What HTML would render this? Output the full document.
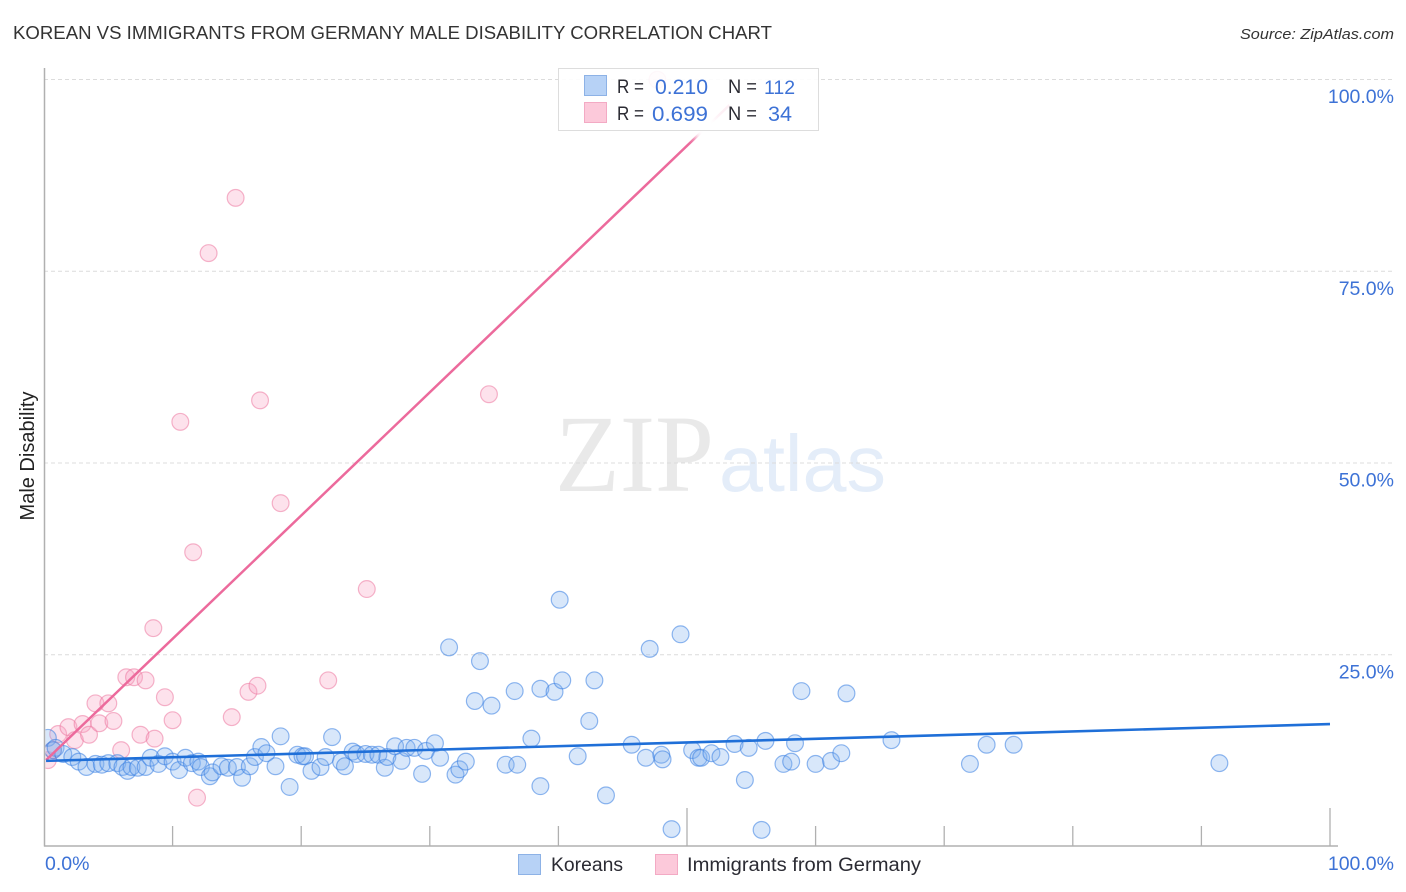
<!DOCTYPE html>
<html lang="en">
<head>
<meta charset="utf-8">
<title>Korean vs Immigrants from Germany Male Disability Correlation Chart</title>
<style>
html,body{margin:0;padding:0;background:#fff;width:1406px;height:892px;overflow:hidden}
svg{display:block}
text{font-family:"Liberation Sans",sans-serif}
.tick-label{fill:#3d72d6;font-size:19.5px}
.leg-text{fill:#2b2b33;font-size:19px}
.leg-val{fill:#3d72d6;font-size:21px}
</style>
</head>
<body>
<svg id="chart" xmlns="http://www.w3.org/2000/svg" width="1406" height="892" viewBox="0 0 1406 892">
  <defs>
    <clipPath id="plot-clip"><rect x="45.5" y="60" width="1300" height="785"></rect></clipPath>
    <filter id="soft" x="-50%" y="-50%" width="200%" height="200%"><feGaussianBlur stdDeviation="4"></feGaussianBlur></filter>
  </defs>

  <text x="13" y="39" font-size="18.5" fill="#333" textLength="759" lengthAdjust="spacingAndGlyphs">KOREAN VS IMMIGRANTS FROM GERMANY MALE DISABILITY CORRELATION CHART</text>
  <text x="1394" y="39" font-size="15" font-style="italic" fill="#333" text-anchor="end" textLength="154" lengthAdjust="spacingAndGlyphs">Source: ZipAtlas.com</text>

  <g>
    <text x="555" y="491" font-size="110" fill="#e9e9e9" textLength="159" lengthAdjust="spacingAndGlyphs" style="font-family:'Liberation Serif',serif">ZIP</text>
    <text x="719" y="491" font-size="80" fill="#e4edf9" textLength="167" lengthAdjust="spacingAndGlyphs">atlas</text>
  </g>

  <g id="grid"></g>
  <g id="axes"></g>
  <g id="y-labels"></g>
  <g id="x-labels"></g>

  <text transform="translate(34,456) rotate(-90)" font-size="20" fill="#222" text-anchor="middle">Male Disability</text>

  <g clip-path="url(#plot-clip)">
    <g id="pink-points"></g>
    <g id="blue-points"></g>
    <g id="trends"></g>
  </g>

  <ellipse cx="705" cy="128" rx="14" ry="15" fill="#fff" filter="url(#soft)"></ellipse>

  <g>
    <rect x="558.5" y="68.5" width="260" height="62" fill="#fff" fill-opacity="0.9" stroke="#ddd" stroke-width="1"></rect>
    <rect x="584.5" y="75.5" width="22" height="20" fill="#b7d2f6" stroke="#8db2e6"></rect>
    <rect x="584.5" y="102.5" width="22" height="20" fill="#fcc9da" stroke="#f3aac4"></rect>
    <text class="leg-text" x="617" y="93" textLength="27" lengthAdjust="spacingAndGlyphs">R =</text>
    <text class="leg-val" x="655" y="94" textLength="53" lengthAdjust="spacingAndGlyphs">0.210</text>
    <text class="leg-text" x="728" y="93" textLength="29" lengthAdjust="spacingAndGlyphs">N =</text>
    <text class="leg-val" x="764" y="94" font-size="20" style="font-size:19.5px">112</text>
    <text class="leg-text" x="617" y="120" textLength="27" lengthAdjust="spacingAndGlyphs">R =</text>
    <text class="leg-val" x="652" y="121" textLength="56" lengthAdjust="spacingAndGlyphs">0.699</text>
    <text class="leg-text" x="728" y="120" textLength="29" lengthAdjust="spacingAndGlyphs">N =</text>
    <text class="leg-val" x="768" y="121" textLength="24" lengthAdjust="spacingAndGlyphs">34</text>
  </g>

  <g>
    <rect x="518.5" y="854.5" width="22" height="20" fill="#b7d2f6" stroke="#8db2e6"></rect>
    <text class="leg-text" x="551" y="871" textLength="72" lengthAdjust="spacingAndGlyphs">Koreans</text>
    <rect x="655.5" y="854.5" width="22" height="20" fill="#fcc9da" stroke="#f3aac4"></rect>
    <text class="leg-text" x="687" y="871" textLength="234" lengthAdjust="spacingAndGlyphs">Immigrants from Germany</text>
  </g>
</svg>

<script>
const koreanX = [0.3,0.7,0.9,1.5,2.2,2.7,3.3,4.0,4.5,5.0,5.7,6.1,6.5,6.8,7.3,7.9,8.3,8.9,9.4,10.0,10.5,11.0,11.5,12.0,12.2,12.9,13.1,13.8,14.3,15.0,15.4,16.0,16.4,16.9,17.3,18.0,18.4,19.1,19.7,20.1,20.3,20.8,21.5,21.9,22.4,23.1,23.4,24.0,24.3,25.0,25.5,26.0,26.5,26.7,27.3,27.8,28.2,28.8,29.4,29.7,30.4,30.8,31.5,32.0,32.3,32.8,33.5,33.9,34.8,35.9,36.6,36.8,37.9,38.6,38.6,39.7,40.1,40.3,41.5,42.4,42.8,43.7,45.7,46.8,47.1,48.0,48.1,48.8,49.5,50.4,50.9,51.1,51.9,52.6,53.7,54.5,54.8,55.8,56.1,57.5,58.1,58.4,58.9,60.0,61.2,62.0,62.4,65.9,72.0,73.3,75.4,91.4];
const koreanY = [14.1,12.5,12.8,12.0,11.6,11.0,10.3,10.7,10.6,10.8,10.8,10.3,9.8,10.3,10.2,10.3,11.5,10.7,11.7,11.0,9.9,11.5,10.8,11.0,10.3,9.1,9.6,10.4,10.2,10.3,8.9,10.4,11.6,12.9,12.1,10.4,14.3,7.7,11.9,11.7,11.7,9.8,10.3,11.6,14.2,11.0,10.4,12.3,12.0,12.0,11.9,11.9,10.2,11.6,13.0,11.1,12.8,12.8,9.4,12.4,13.4,11.5,25.9,9.3,10.0,11.0,18.9,24.1,18.3,10.6,20.2,10.6,14.0,20.5,7.8,20.1,32.1,21.6,11.7,16.3,21.6,6.6,13.2,11.5,25.7,11.9,11.3,2.2,27.6,12.5,11.5,11.5,12.1,11.6,13.3,8.6,12.8,2.1,13.7,10.7,11.0,13.4,20.2,10.7,11.1,12.1,19.9,13.8,10.7,13.2,13.2,10.8];
const germanyX = [0.3,0.7,1.1,1.9,2.4,3.0,3.5,4.3,4.0,5.0,5.4,6.0,6.4,7.0,7.9,7.5,8.6,8.5,9.4,10.0,10.6,11.6,11.9,12.8,14.6,14.9,15.9,16.6,16.8,18.4,22.1,25.1,34.6,47.7];
const germanyY = [11.2,12.5,14.6,15.5,13.8,15.9,14.5,16.0,18.6,18.6,16.3,12.5,22.0,22.0,21.6,14.5,14.0,28.4,19.4,16.4,55.3,38.3,6.3,77.3,16.8,84.5,20.1,20.9,58.1,44.7,21.6,33.5,58.9,99.9];
const koreanTrendX = [0.16, 100];
const koreanTrendY = [11.1, 15.9];
const germanyTrendX = [0.16, 53.3];
const germanyTrendY = [11.2, 96.6];
const yTicks = [25, 50, 75, 100];
const yTickLabels = ["25.0%", "50.0%", "75.0%", "100.0%"];
const xTicks = [0, 10, 20, 30, 40, 50, 60, 70, 80, 90, 100];
const xMajorTicks = [50, 100];
const xEndLabels = ["0.0%", "100.0%"];

const NS = "http://www.w3.org/2000/svg";
const plotLeft = 44, plotRight = 1330, plotBottom = 846, plotTop = 79;
function sx(v) { return plotLeft + (plotRight - plotLeft) * v / 100; }
function sy(v) { return plotBottom - (plotBottom - plotTop) * v / 100; }
function mk(tag, attrs, parentId) {
  const el = document.createElementNS(NS, tag);
  for (const k in attrs) el.setAttribute(k, attrs[k]);
  document.getElementById(parentId).appendChild(el);
  return el;
}

yTicks.forEach(function (t, i) {
  const line = mk("line", {x1: plotLeft, x2: 1394, y1: sy(t) + 0.5, y2: sy(t) + 0.5, stroke: "#dcdcdc", "stroke-width": 1, "stroke-dasharray": "4 3"}, "grid");
  
  
  const label = mk("text", {x: 1394, y: sy(t) + 24, "text-anchor": "end", "class": "tick-label"}, "y-labels");
  
  
  label.textContent = yTickLabels[i];
});

const yAxis = mk("line", {x1: 44.5, x2: 44.5, y1: 68, y2: 846.5, stroke: "#b0b0b0", "stroke-width": 1.5}, "axes");


const xAxis = mk("line", {x1: 44, x2: 1338, y1: 846, y2: 846, stroke: "#b0b0b0", "stroke-width": 1.5}, "axes");



xTicks.forEach(function (t) {
  if (t === 0) return;
  const major = xMajorTicks.indexOf(t) >= 0;
  const tick = mk("line", {x1: sx(t), x2: sx(t), y1: major ? 808 : 826, y2: 846, stroke: "#b0b0b0", "stroke-width": 1.3}, "axes");
  
  
});

const xLabelLeft = mk("text", {x: 45, y: 870, "class": "tick-label"}, "x-labels");


xLabelLeft.textContent = xEndLabels[0];
const xLabelRight = mk("text", {x: 1394, y: 870, "text-anchor": "end", "class": "tick-label"}, "x-labels");


xLabelRight.textContent = xEndLabels[1];

germanyX.forEach(function (x, i) {
  const c = mk("circle", {cx: sx(x), cy: sy(germanyY[i]), r: 8.4, fill: "rgba(248,165,195,0.32)", stroke: "rgba(236,120,160,0.55)", "stroke-width": 1.2}, "pink-points");
  
  
});
koreanX.forEach(function (x, i) {
  const c = mk("circle", {cx: sx(x), cy: sy(koreanY[i]), r: 8.4, fill: "rgba(125,175,240,0.3)", stroke: "rgba(55,125,225,0.55)", "stroke-width": 1.2}, "blue-points");
  
  
});

const pinkLine = mk("line", {x1: sx(germanyTrendX[0]), y1: sy(germanyTrendY[0]), x2: sx(germanyTrendX[1]), y2: sy(germanyTrendY[1]), stroke: "#ec6a9c", "stroke-width": 2.5}, "trends");


const blueLine = mk("line", {x1: sx(koreanTrendX[0]), y1: sy(koreanTrendY[0]), x2: sx(koreanTrendX[1]), y2: sy(koreanTrendY[1]), stroke: "#1f6fd8", "stroke-width": 2.6}, "trends");


</script>
</body>
</html>
